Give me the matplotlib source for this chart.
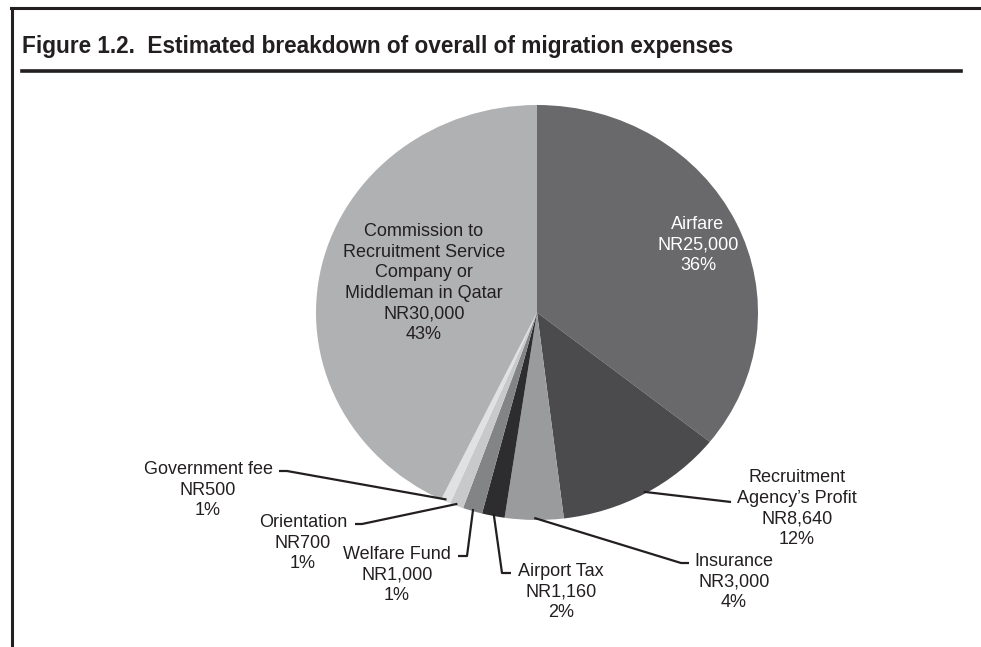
import numpy as np
from matplotlib import pyplot as plt
from matplotlib.lines import Line2D

plt.rcParams["font.family"] = ["Liberation Sans", "DejaVu Sans"]

# Data, clockwise from 12 o'clock
categories = [
    "Airfare",
    "Recruitment\nAgency\u2019s Profit",
    "Insurance",
    "Airport Tax",
    "Welfare Fund",
    "Orientation",
    "Government fee",
    "Commission to\nRecruitment Service\nCompany or\nMiddleman in Qatar",
]
amounts = [25000, 8640, 3000, 1160, 1000, 700, 500, 30000]
amount_labels = ["NR25,000", "NR8,640", "NR3,000", "NR1,160", "NR1,000", "NR700", "NR500", "NR30,000"]
percent_labels = ["36%", "12%", "4%", "2%", "1%", "1%", "1%", "43%"]

COLORS = ["#69696b", "#4b4b4d", "#9a9b9d", "#2d2c2e", "#838486", "#c8c9cb", "#e0e1e2", "#b0b1b3"]
INK = "#231f20"

W, H = 981, 647
# the pie is drawn slightly stretched (ellipse), in pixel units from the top-left
PIE_CX, PIE_CY = 537, 312.5
PIE_RX, PIE_RY = 221, 207.5

# Label layout (pixels from top-left): text centre x, first line centre y,
# then leader elbow and leader end (absent = label inside the wedge).
LAYOUT = {
    0: dict(text=(698, 225), color="white"),
    1: dict(text=(797, 478), elbow=None, end=(731, 502)),
    2: dict(text=(734, 562), elbow=(681, 563), end=(689, 563)),
    3: dict(text=(561, 572), elbow=(502, 573), end=(511, 573)),
    4: dict(text=(397, 555), elbow=(467, 556), end=(458, 556)),
    5: dict(text=(303, 523), elbow=(362, 524), end=(355, 524)),
    6: dict(text=(208, 470), elbow=(287, 471), end=(279, 471)),
    7: dict(text=(424, 232), color=INK),
}

fig = plt.figure(figsize=(W / 100, H / 100), dpi=100)

# pie axes sized to the ellipse's bounding box
ax_pie = fig.add_axes([(PIE_CX - PIE_RX) / W, 1 - (PIE_CY + PIE_RY) / H,
                       2 * PIE_RX / W, 2 * PIE_RY / H])
wedges, _ = ax_pie.pie(amounts, colors=COLORS, startangle=90, counterclock=False,
                       radius=1, wedgeprops=dict(linewidth=0))
ax_pie.set_aspect("auto")
ax_pie.set_xlim(-1, 1)
ax_pie.set_ylim(-1, 1)
ax_pie.axis("off")

# overlay axes in pixel units (y measured from top) for labels and leaders
ax = fig.add_axes([0, 0, 1, 1])
ax.set_xlim(0, W)
ax.set_ylim(H, 0)
ax.axis("off")
ax.patch.set_alpha(0)

fs = 13
for i, w in enumerate(wedges):
    lay = LAYOUT[i]
    text = f"{categories[i]}\n{amount_labels[i]}\n{percent_labels[i]}"
    tx, ty = lay["text"]
    ax.text(tx, ty - 9, text, ha="center", va="top", fontsize=fs,
            color=lay.get("color", INK), linespacing=1.27)
    if "end" in lay:
        # anchor on the wedge's outer edge at its mid angle
        mid = np.deg2rad((w.theta1 + w.theta2) / 2)
        xs = [PIE_CX + PIE_RX * 0.99 * np.cos(mid)]
        ys = [PIE_CY - PIE_RY * 0.99 * np.sin(mid)]
        if lay["elbow"] is not None:
            xs.append(lay["elbow"][0])
            ys.append(lay["elbow"][1])
        xs.append(lay["end"][0])
        ys.append(lay["end"][1])
        ax.plot(xs, ys, color=INK, lw=1.6, solid_capstyle="butt")

# Frame and title
fig.add_artist(Line2D([11 / W, 1], [1 - 8 / H, 1 - 8 / H], color=INK, lw=2.2))
fig.add_artist(Line2D([12 / W, 12 / W], [0, 1 - 8 / H], color=INK, lw=2.2))
fig.add_artist(Line2D([22 / W, 961 / W], [1 - 71 / H, 1 - 71 / H], color=INK, lw=2.6))
fig.text(22 / W, 1 - 47 / H, "Figure 1.2.  Estimated breakdown of overall of migration expenses",
         ha="left", va="center", fontsize=16.3, fontweight="bold", color=INK)

fig.savefig("out.png", facecolor="white")
